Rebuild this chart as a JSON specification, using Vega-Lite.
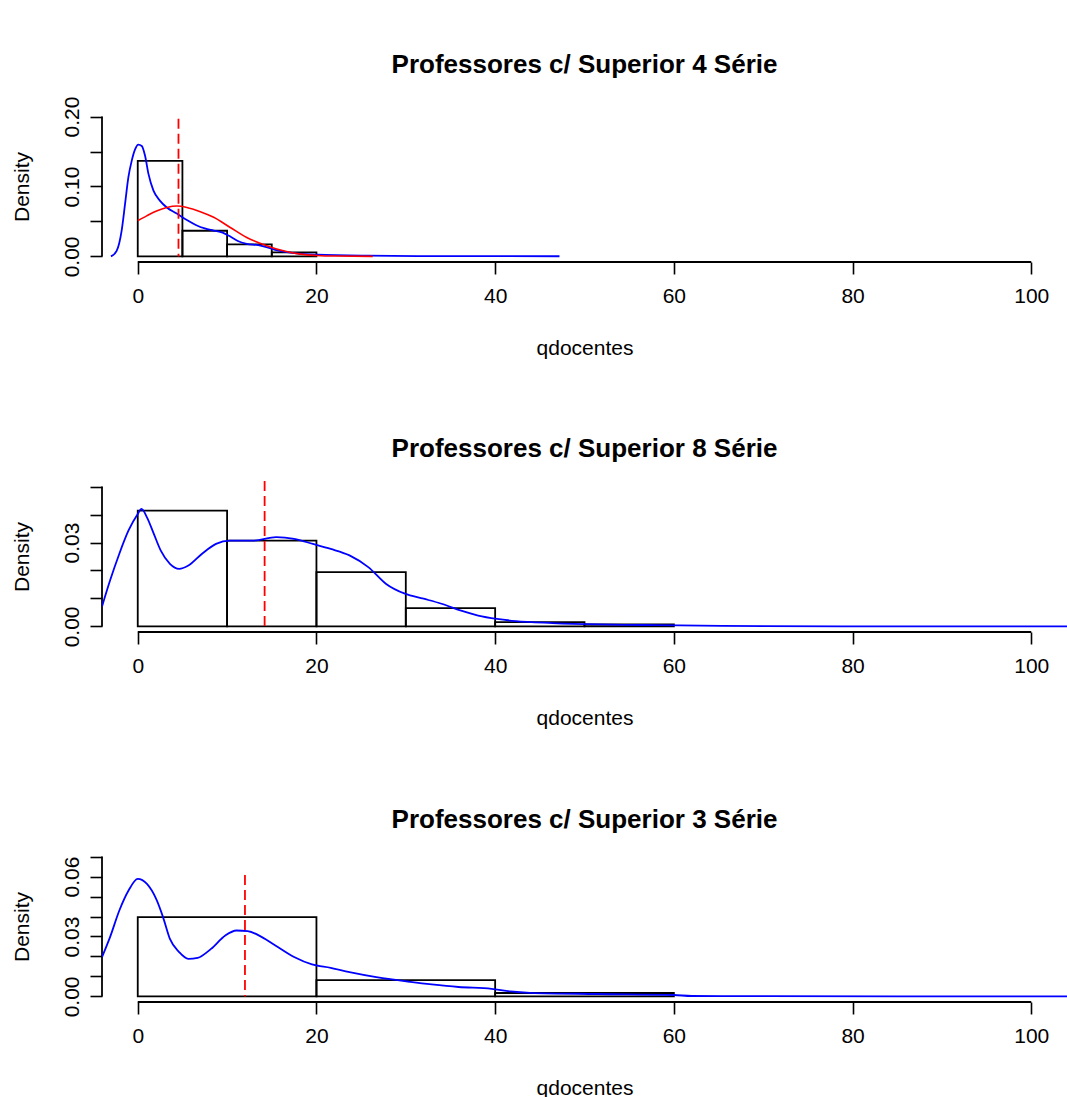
{
  "$schema": "https://vega.github.io/schema/vega-lite/v6.json",
  "background": "white",
  "padding": {"top": 52, "left": 10, "right": 0, "bottom": 0},
  "bounds": "flush",
  "spacing": 219,
  "config": {
    "view": {"stroke": null},
    "font": "Liberation Sans",
    "axis": {
      "grid": false, "domain": false,
      "tickColor": "black", "tickWidth": 1.6, "tickSize": 12,
      "labelColor": "black", "labelFont": "Liberation Sans", "labelFontSize": 21,
      "labelFlush": false, "labelOverlap": false,
      "titleColor": "black", "titleFont": "Liberation Sans", "titleFontSize": 21, "titleFontWeight": "normal"
    },
    "axisX": {"labelPadding": 11, "titlePadding": 31},
    "axisY": {"labelAngle": 270, "labelAlign": "center", "labelBaseline": "alphabetic", "labelPadding": 12, "titleAngle": 270, "titleBaseline": "alphabetic", "titlePadding": 33},
    "title": {"font": "Liberation Sans", "fontSize": 26, "fontWeight": "bold", "color": "black", "anchor": "middle", "offset": 18}
  },
  "datasets": {
    "p1_bars": [
      {"lo": 0, "hi": 5, "density": 0.1367},
      {"lo": 5, "hi": 10, "density": 0.0367},
      {"lo": 10, "hi": 15, "density": 0.0171},
      {"lo": 15, "hi": 20, "density": 0.0057}
    ],
    "p1_kde": [
      {"q": -3.0, "density": 0.0}, {"q": -2.36, "density": 0.008}, {"q": -1.8, "density": 0.037},
      {"q": -1.42, "density": 0.075}, {"q": -1.05, "density": 0.113}, {"q": -0.67, "density": 0.137},
      {"q": -0.3, "density": 0.153}, {"q": 0.07, "density": 0.16}, {"q": 0.45, "density": 0.158},
      {"q": 0.82, "density": 0.144}, {"q": 1.2, "density": 0.118}, {"q": 1.76, "density": 0.094},
      {"q": 2.5, "density": 0.0795}, {"q": 3.25, "density": 0.07}, {"q": 4.37, "density": 0.0614},
      {"q": 5.5, "density": 0.052}, {"q": 6.5, "density": 0.045}, {"q": 7.5, "density": 0.04},
      {"q": 8.5, "density": 0.037}, {"q": 9.5, "density": 0.034}, {"q": 10.4, "density": 0.028},
      {"q": 11.2, "density": 0.022}, {"q": 12.2, "density": 0.018}, {"q": 13.5, "density": 0.016},
      {"q": 14.5, "density": 0.013}, {"q": 15.5, "density": 0.009}, {"q": 16.7, "density": 0.006},
      {"q": 18.0, "density": 0.004}, {"q": 20.1, "density": 0.0025}, {"q": 25.7, "density": 0.001},
      {"q": 32.0, "density": 0.0005}, {"q": 40.0, "density": 0.0003}, {"q": 47.2, "density": 0.0002}
    ],
    "p1_norm": [
      {"q": 0, "density": 0.051}, {"q": 1.0, "density": 0.058}, {"q": 2.1, "density": 0.065},
      {"q": 3.25, "density": 0.07}, {"q": 4.4, "density": 0.072}, {"q": 5.5, "density": 0.07},
      {"q": 7.0, "density": 0.064}, {"q": 8.5, "density": 0.056}, {"q": 10.4, "density": 0.041},
      {"q": 12.2, "density": 0.027}, {"q": 14.5, "density": 0.015}, {"q": 16.3, "density": 0.008},
      {"q": 18.2, "density": 0.0033}, {"q": 20.0, "density": 0.0014}, {"q": 22.0, "density": 0.0005},
      {"q": 26.3, "density": 0.0001}
    ],
    "p1_mean": [{"q": 4.56, "top": 0.197}],
    "p2_bars": [
      {"lo": 0, "hi": 10, "density": 0.0414},
      {"lo": 10, "hi": 20, "density": 0.0307},
      {"lo": 20, "hi": 30, "density": 0.0194},
      {"lo": 30, "hi": 40, "density": 0.00655},
      {"lo": 40, "hi": 50, "density": 0.0015},
      {"lo": 50, "hi": 60, "density": 0.0007}
    ],
    "p2_kde": [
      {"q": -4.0, "density": 0.0071}, {"q": -3.1, "density": 0.0164}, {"q": -2.06, "density": 0.026},
      {"q": -1.03, "density": 0.0343}, {"q": 0, "density": 0.0402}, {"q": 0.41, "density": 0.042},
      {"q": 1.03, "density": 0.039}, {"q": 1.8, "density": 0.0331}, {"q": 2.58, "density": 0.0271},
      {"q": 3.6, "density": 0.0224}, {"q": 4.64, "density": 0.0206}, {"q": 5.67, "density": 0.0218},
      {"q": 7.2, "density": 0.026}, {"q": 8.76, "density": 0.0295}, {"q": 10.3, "density": 0.0307},
      {"q": 12.9, "density": 0.0307}, {"q": 15.5, "density": 0.0319}, {"q": 17.5, "density": 0.0313},
      {"q": 19.6, "density": 0.0295}, {"q": 21.6, "density": 0.0277}, {"q": 23.7, "density": 0.0254},
      {"q": 25.8, "density": 0.0212}, {"q": 27.8, "density": 0.0152}, {"q": 29.9, "density": 0.0117},
      {"q": 32.0, "density": 0.0099}, {"q": 34.0, "density": 0.0081}, {"q": 36.1, "density": 0.0057},
      {"q": 38.1, "density": 0.0039}, {"q": 40.2, "density": 0.0027}, {"q": 42.3, "density": 0.0019},
      {"q": 46.4, "density": 0.0012}, {"q": 51.5, "density": 0.0007}, {"q": 56.7, "density": 0.0005},
      {"q": 65.4, "density": 0.0002}, {"q": 80.0, "density": 0.0}, {"q": 104.0, "density": 0.0}
    ],
    "p2_mean": [{"q": 14.2, "top": 0.052}],
    "p3_bars": [
      {"lo": 0, "hi": 20, "density": 0.0397},
      {"lo": 20, "hi": 40, "density": 0.0082},
      {"lo": 40, "hi": 60, "density": 0.0017}
    ],
    "p3_kde": [
      {"q": -4.0, "density": 0.0197}, {"q": -3.1, "density": 0.0297}, {"q": -2.06, "density": 0.043},
      {"q": -1.03, "density": 0.053}, {"q": 0, "density": 0.0588}, {"q": 1.03, "density": 0.0563},
      {"q": 2.06, "density": 0.0488}, {"q": 2.83, "density": 0.0397}, {"q": 3.6, "density": 0.0288},
      {"q": 4.63, "density": 0.0222}, {"q": 5.66, "density": 0.0188}, {"q": 6.7, "density": 0.0193},
      {"q": 8.2, "density": 0.0238}, {"q": 9.8, "density": 0.0305}, {"q": 11.05, "density": 0.033},
      {"q": 12.3, "density": 0.0327}, {"q": 13.9, "density": 0.0297}, {"q": 15.4, "density": 0.0255},
      {"q": 17.5, "density": 0.0197}, {"q": 19.5, "density": 0.016}, {"q": 21.6, "density": 0.0143},
      {"q": 23.7, "density": 0.0122}, {"q": 26.7, "density": 0.0097}, {"q": 30.5, "density": 0.0073},
      {"q": 32.9, "density": 0.006}, {"q": 35.9, "density": 0.0047}, {"q": 39.6, "density": 0.0038},
      {"q": 41.7, "density": 0.0025}, {"q": 43.9, "density": 0.0018}, {"q": 51.4, "density": 0.0012},
      {"q": 60.0, "density": 0.0007}, {"q": 62.0, "density": 0.0002}, {"q": 70.0, "density": 0.0001},
      {"q": 85.0, "density": 0.0}, {"q": 104.0, "density": 0.0}
    ],
    "p3_mean": [{"q": 12.0, "top": 0.0608}],
    "xline": [{"from": 0, "to": 100}],
    "p1_yline": [{"from": 0, "to": 0.2}],
    "p2_yline": [{"from": 0, "to": 0.05}],
    "p3_yline": [{"from": 0, "to": 0.07}]
  },
  "vconcat": [
    {
      "width": 965, "height": 151,
      "title": "Professores c/ Superior 4 Série",
      "layer": [
        {
          "data": {"name": "p1_bars"},
          "mark": {"type": "rect", "fill": "transparent", "stroke": "black", "strokeWidth": 1.8},
          "encoding": {
            "x": {"field": "lo", "type": "quantitative", "title": "qdocentes", "scale": {"domain": [-4, 104], "nice": false, "zero": false}, "axis": {"values": [0, 20, 40, 60, 80, 100], "tickCount": 20, "format": "d", "labelOverlap": false}},
            "x2": {"field": "hi"},
            "y": {"field": "density", "type": "quantitative", "title": "Density", "scale": {"domain": [-0.008, 0.208], "nice": false, "zero": false}, "axis": {"values": [0, 0.05, 0.1, 0.15, 0.2], "tickCount": 20, "format": ".2f", "labelOverlap": false, "labelExpr": "datum.label == '0.05' || datum.label == '0.15' ? '' : datum.label"}},
            "y2": {"datum": 0}
          }
        },
        {
          "data": {"name": "xline"},
          "mark": {"type": "rule", "color": "black", "strokeWidth": 1.8},
          "encoding": {"x": {"field": "from", "type": "quantitative", "title": "qdocentes"}, "x2": {"field": "to"}, "y": {"datum": -0.008}}
        },
        {
          "data": {"name": "p1_yline"},
          "mark": {"type": "rule", "color": "black", "strokeWidth": 1.8},
          "encoding": {"y": {"field": "from", "type": "quantitative", "title": "Density"}, "y2": {"field": "to"}, "x": {"datum": -4}}
        },
        {
          "data": {"name": "p1_kde"},
          "mark": {"type": "line", "color": "#0000ff", "strokeWidth": 1.8, "interpolate": "monotone", "clip": true},
          "encoding": {"x": {"field": "q", "type": "quantitative", "title": "qdocentes"}, "y": {"field": "density", "type": "quantitative", "title": "Density"}}
        },
        {
          "data": {"name": "p1_norm"},
          "mark": {"type": "line", "color": "#ff0000", "strokeWidth": 1.6, "interpolate": "monotone", "clip": true},
          "encoding": {"x": {"field": "q", "type": "quantitative", "title": "qdocentes"}, "y": {"field": "density", "type": "quantitative", "title": "Density"}}
        },
        {
          "data": {"name": "p1_mean"},
          "mark": {"type": "rule", "color": "#ff0000", "strokeWidth": 1.8, "strokeDash": [10, 5]},
          "encoding": {"x": {"field": "q", "type": "quantitative", "title": "qdocentes"}, "y": {"field": "top", "type": "quantitative", "title": "Density"}, "y2": {"datum": 0}}
        }
      ]
    },
    {
      "width": 965, "height": 151,
      "title": "Professores c/ Superior 8 Série",
      "layer": [
        {
          "data": {"name": "p2_bars"},
          "mark": {"type": "rect", "fill": "transparent", "stroke": "black", "strokeWidth": 1.8},
          "encoding": {
            "x": {"field": "lo", "type": "quantitative", "title": "qdocentes", "scale": {"domain": [-4, 104], "nice": false, "zero": false}, "axis": {"values": [0, 20, 40, 60, 80, 100], "tickCount": 20, "format": "d", "labelOverlap": false}},
            "x2": {"field": "hi"},
            "y": {"field": "density", "type": "quantitative", "title": "Density", "scale": {"domain": [-0.002, 0.052], "nice": false, "zero": false}, "axis": {"values": [0, 0.01, 0.02, 0.03, 0.04, 0.05], "tickCount": 20, "format": ".2f", "labelOverlap": false, "labelExpr": "datum.label == '0.00' || datum.label == '0.03' ? datum.label : ''"}},
            "y2": {"datum": 0}
          }
        },
        {
          "data": {"name": "xline"},
          "mark": {"type": "rule", "color": "black", "strokeWidth": 1.8},
          "encoding": {"x": {"field": "from", "type": "quantitative", "title": "qdocentes"}, "x2": {"field": "to"}, "y": {"datum": -0.002}}
        },
        {
          "data": {"name": "p2_yline"},
          "mark": {"type": "rule", "color": "black", "strokeWidth": 1.8},
          "encoding": {"y": {"field": "from", "type": "quantitative", "title": "Density"}, "y2": {"field": "to"}, "x": {"datum": -4}}
        },
        {
          "data": {"name": "p2_kde"},
          "mark": {"type": "line", "color": "#0000ff", "strokeWidth": 1.8, "interpolate": "monotone", "clip": true},
          "encoding": {"x": {"field": "q", "type": "quantitative", "title": "qdocentes"}, "y": {"field": "density", "type": "quantitative", "title": "Density"}}
        },
        {
          "data": {"name": "p2_mean"},
          "mark": {"type": "rule", "color": "#ff0000", "strokeWidth": 1.8, "strokeDash": [10, 5]},
          "encoding": {"x": {"field": "q", "type": "quantitative", "title": "qdocentes"}, "y": {"field": "top", "type": "quantitative", "title": "Density"}, "y2": {"datum": 0}}
        }
      ]
    },
    {
      "width": 965, "height": 151,
      "title": "Professores c/ Superior 3 Série",
      "layer": [
        {
          "data": {"name": "p3_bars"},
          "mark": {"type": "rect", "fill": "transparent", "stroke": "black", "strokeWidth": 1.8},
          "encoding": {
            "x": {"field": "lo", "type": "quantitative", "title": "qdocentes", "scale": {"domain": [-4, 104], "nice": false, "zero": false}, "axis": {"values": [0, 20, 40, 60, 80, 100], "tickCount": 20, "format": "d", "labelOverlap": false}},
            "x2": {"field": "hi"},
            "y": {"field": "density", "type": "quantitative", "title": "Density", "scale": {"domain": [-0.0028, 0.0728], "nice": false, "zero": false}, "axis": {"values": [0, 0.01, 0.02, 0.03, 0.04, 0.05, 0.06, 0.07], "tickCount": 20, "format": ".2f", "labelOverlap": false, "labelExpr": "datum.label == '0.00' || datum.label == '0.03' || datum.label == '0.06' ? datum.label : ''"}},
            "y2": {"datum": 0}
          }
        },
        {
          "data": {"name": "xline"},
          "mark": {"type": "rule", "color": "black", "strokeWidth": 1.8},
          "encoding": {"x": {"field": "from", "type": "quantitative", "title": "qdocentes"}, "x2": {"field": "to"}, "y": {"datum": -0.0028}}
        },
        {
          "data": {"name": "p3_yline"},
          "mark": {"type": "rule", "color": "black", "strokeWidth": 1.8},
          "encoding": {"y": {"field": "from", "type": "quantitative", "title": "Density"}, "y2": {"field": "to"}, "x": {"datum": -4}}
        },
        {
          "data": {"name": "p3_kde"},
          "mark": {"type": "line", "color": "#0000ff", "strokeWidth": 1.8, "interpolate": "monotone", "clip": true},
          "encoding": {"x": {"field": "q", "type": "quantitative", "title": "qdocentes"}, "y": {"field": "density", "type": "quantitative", "title": "Density"}}
        },
        {
          "data": {"name": "p3_mean"},
          "mark": {"type": "rule", "color": "#ff0000", "strokeWidth": 1.8, "strokeDash": [10, 5]},
          "encoding": {"x": {"field": "q", "type": "quantitative", "title": "qdocentes"}, "y": {"field": "top", "type": "quantitative", "title": "Density"}, "y2": {"datum": 0}}
        }
      ]
    }
  ]
}
